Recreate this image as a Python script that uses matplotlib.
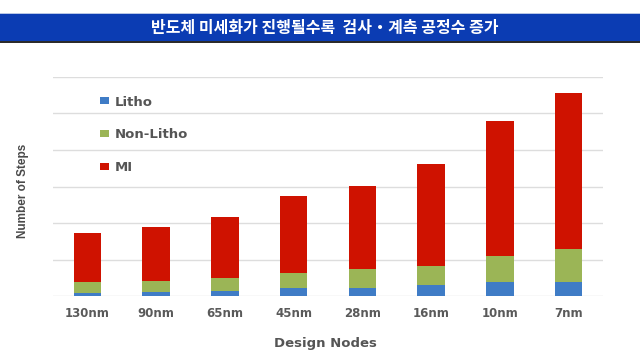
import matplotlib
matplotlib.use('Agg')
import matplotlib.pyplot as plt
from matplotlib.patches import Rectangle
import numpy as np

# Data (steps, 100 per gridline)
nodes = ['130nm', '90nm', '65nm', '45nm', '28nm', '16nm', '10nm', '7nm']
litho = [8, 12, 14, 21, 21, 30, 37, 38]
non_litho = [30, 30, 34, 43, 52, 52, 73, 92]
mi = [134, 148, 169, 211, 228, 280, 369, 425]

title = '반도체 미세화가 진행될수록  검사・계측 공정수 증가'

fig = plt.figure(figsize=(6.4, 3.6), dpi=100)

# Title bar
fig.patches.append(Rectangle((0, 1 - 14 / 360), 1, 1.5 / 360, transform=fig.transFigure,
                             facecolor='#b8c6e6', edgecolor='none'))
fig.patches.append(Rectangle((0, 1 - 41 / 360), 1, 27 / 360, transform=fig.transFigure,
                             facecolor='#0B3CB3', edgecolor='none'))
fig.patches.append(Rectangle((0, 1 - 43 / 360), 1, 2 / 360, transform=fig.transFigure,
                             facecolor='#2b2b2b', edgecolor='none'))
fig.text(0.508, 1 - 27.5 / 360, title, color='white', fontsize=11.5, fontweight='bold',
         ha='center', va='center', family=['Noto Sans CJK KR', 'DejaVu Sans'])

ax = fig.add_axes([53 / 640, 1 - 296 / 360, 550 / 640, 219 / 360])
x = np.arange(len(nodes))
w = 0.4
b1 = np.array(litho)
b2 = b1 + np.array(non_litho)
ax.bar(x, litho, w, color='#3F7CC6', label='Litho', zorder=3)
ax.bar(x, non_litho, w, bottom=b1, color='#9BB556', label='Non-Litho', zorder=3)
ax.bar(x, mi, w, bottom=b2, color='#CF1200', label='MI', zorder=3)

ax.set_xlim(-0.5, len(nodes) - 0.5)
ax.set_ylim(0, 600)
ax.set_yticks(np.arange(0, 601, 100))
ax.set_yticklabels([])
ax.tick_params(axis='y', length=0)
ax.tick_params(axis='x', length=0, pad=8)
ax.set_xticks(x)
ax.set_xticklabels(nodes, fontsize=8.5, fontweight='bold', color='#5a5a5a')
ax.grid(axis='y', color='#dddddd', lw=1, zorder=0)
for s in ax.spines.values():
    s.set_visible(False)

ax.set_ylabel('Number of Steps', fontsize=8.5, fontweight='bold', color='#4a4a4a',
              family=['Liberation Sans Narrow', 'Liberation Sans', 'DejaVu Sans'])
ax.yaxis.set_label_coords(-0.043, 0.48)

fig.text(0.508, 1 - 344 / 360, 'Design Nodes', fontsize=9.5, fontweight='bold',
         color='#555555', ha='center', va='center')

ax.legend(loc='upper left', bbox_to_anchor=(0.085, 0.915), frameon=False,
          borderaxespad=0, borderpad=0, handlelength=0.7, handleheight=0.45,
          handletextpad=0.4, labelspacing=1.5,
          prop={'size': 9.5, 'weight': 'bold'}, labelcolor='#555555')

fig.savefig('out.png', dpi=100)
